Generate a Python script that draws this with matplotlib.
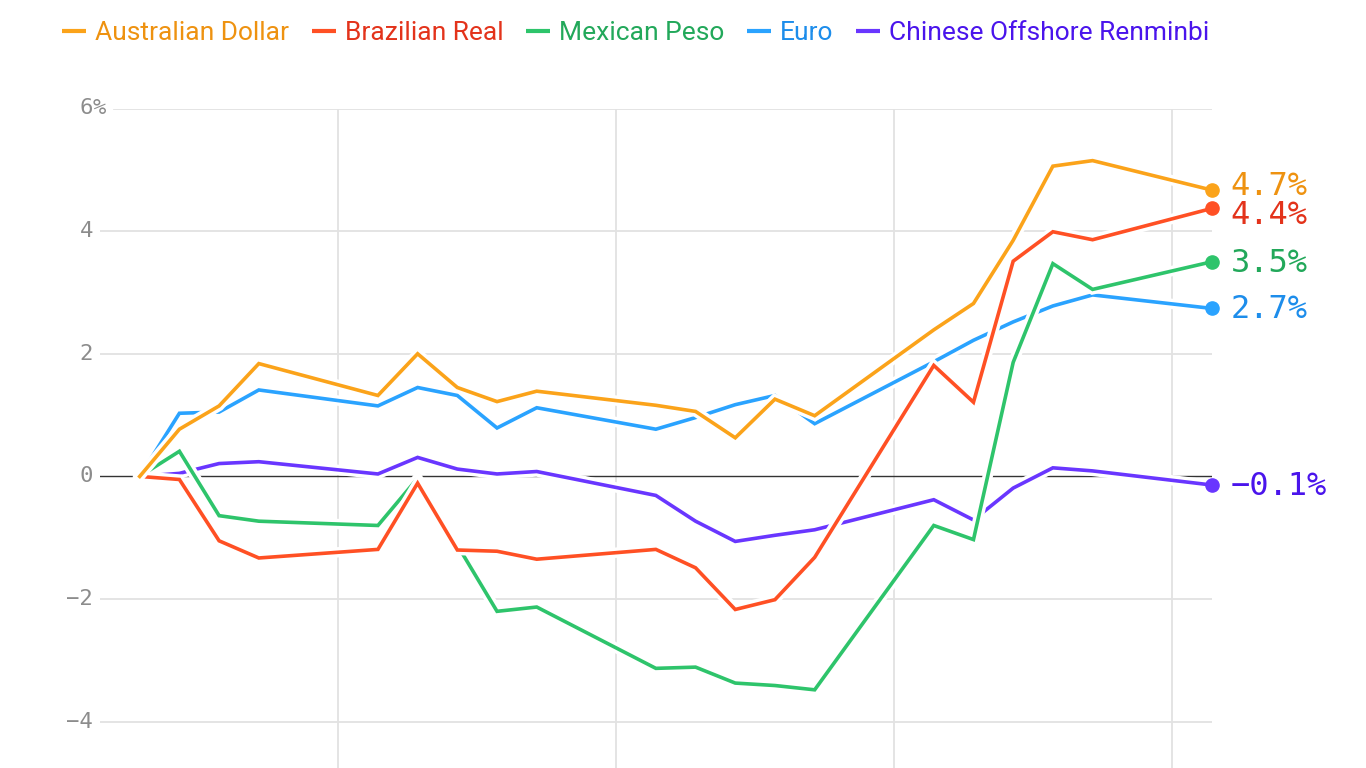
import numpy as np
import matplotlib
matplotlib.use("Agg")
import matplotlib.pyplot as plt
import matplotlib.patheffects as pe
from matplotlib.lines import Line2D

# trading days since the start (weekends skipped)
days = [0, 1, 2, 3, 6, 7, 8, 9, 10, 13, 14, 15, 16, 17, 20, 21, 22, 23, 24, 27]

names = ["Australian Dollar", "Brazilian Real", "Mexican Peso", "Euro",
         "Chinese Offshore Renminbi"]

aud = [0, 0.77, 1.15, 1.84, 1.32, 2.00, 1.45, 1.22, 1.39, 1.16, 1.06, 0.63,
       1.26, 0.99, 2.39, 2.82, 3.85, 5.06, 5.15, 4.67]
brl = [0, -0.05, -1.05, -1.33, -1.19, -0.11, -1.20, -1.22, -1.35, -1.19,
       -1.49, -2.17, -2.01, -1.32, 1.81, 1.21, 3.51, 3.99, 3.86, 4.37]
mxn = [0, 0.41, -0.64, -0.73, -0.80, -0.03, -1.12, -2.20, -2.13, -3.13,
       -3.11, -3.37, -3.41, -3.48, -0.80, -1.03, 1.86, 3.47, 3.05, 3.50]
eur = [0, 1.03, 1.05, 1.41, 1.15, 1.45, 1.32, 0.79, 1.12, 0.77, 0.96, 1.17,
       1.32, 0.86, 1.87, 2.22, 2.52, 2.78, 2.96, 2.74]
cnh = [0, 0.05, 0.21, 0.24, 0.04, 0.31, 0.12, 0.04, 0.08, -0.31, -0.73,
       -1.06, -0.96, -0.87, -0.38, -0.71, -0.19, 0.14, 0.09, -0.14]

series = [aud, brl, mxn, eur, cnh]
line_colors = ["#FBA31A", "#FF5024", "#2EC46B", "#2AA3FF", "#6936FF"]
text_colors = ["#EE9210", "#E3331B", "#22A85A", "#1D8DEB", "#4A14EC"]

yticks = [-4, -2, 0, 2, 4, 6]
week_lines = [5, 12, 19, 26]

W, H = 1366, 768
fig = plt.figure(figsize=(W / 100, H / 100), dpi=100)
ax_left, ax_right, ax_top = 100, 1211.7, 108.5
ax = fig.add_axes([ax_left / W, 0, (ax_right - ax_left) / W, 1 - ax_top / H])
ax.set_xlim(-1, 27)
ax.set_ylim(-4.755, 6)
for s in ax.spines.values():
    s.set_visible(False)
ax.set_xticks([])
ax.set_yticks([])

grid_col = "#e2e2e2"
for x in week_lines:
    ax.axvline(x, color=grid_col, lw=1.3, zorder=0)
for y in yticks:
    if y == 0:
        continue
    start = 14 / (ax_right - ax_left) if y == yticks[-1] else 0
    ax.axhline(y, xmin=start, color=grid_col, lw=1.3, zorder=0)
ax.axhline(0, color="#333333", lw=1.0, zorder=1)

# y tick labels: number right aligned, "%" hanging out on the top one
lab_x = -7 / (ax_right - ax_left)
tr = ax.get_yaxis_transform()
for y in yticks:
    txt = f"{y}".replace("-", "\u2212")
    ax.text(lab_x, y, txt, transform=tr, ha="right", va="center",
            fontsize=16, color="#8c8c8c", family="DejaVu Sans Mono")
    if y == yticks[-1]:
        ax.text(lab_x, y, "%", transform=tr, ha="left", va="center",
                fontsize=16, color="#8c8c8c", family="DejaVu Sans Mono")

halo = [pe.Stroke(linewidth=7.5, foreground="white"), pe.Normal()]
for i in reversed(range(len(series))):
    ax.plot(days, series[i], color=line_colors[i], lw=2.6, zorder=3 + (5 - i),
            solid_joinstyle="miter", path_effects=halo)
    ax.plot(days[-1], series[i][-1], "o", ms=9.5, color=line_colors[i],
            zorder=10, clip_on=False)

# end labels, spread so they don't overlap
ends = np.array([s[-1] for s in series])
order = np.argsort(-ends)
pos = ends[order].copy()
gap = 0.47
for _ in range(50):
    for k in range(1, len(pos)):
        d = pos[k - 1] - pos[k]
        if d < gap:
            m = (gap - d) / 2
            pos[k - 1] += m
            pos[k] -= m
label_y = np.empty_like(pos)
label_y[order] = pos
for i in range(len(series)):
    ax.annotate(f"{ends[i]:.1f}%".replace("-", "\u2212"),
                xy=(days[-1], label_y[i]), xytext=(13.5, 1.5),
                textcoords="offset points", ha="left", va="center_baseline",
                fontsize=23, color=text_colors[i], family="DejaVu Sans Mono",
                annotation_clip=False)

handles = [Line2D([], [], color=c, lw=3, solid_capstyle="butt") for c in line_colors]
leg = fig.legend(handles, names, loc="center left",
                 bbox_to_anchor=(62 / W, 1 - 33 / H), ncol=5, frameon=False,
                 borderaxespad=0, borderpad=0, handlelength=0.92,
                 handletextpad=0.34, columnspacing=0.85,
                 prop={"family": "Roboto", "size": 19})
for t, c in zip(leg.get_texts(), text_colors):
    t.set_color(c)

fig.savefig("out.png", dpi=100)
